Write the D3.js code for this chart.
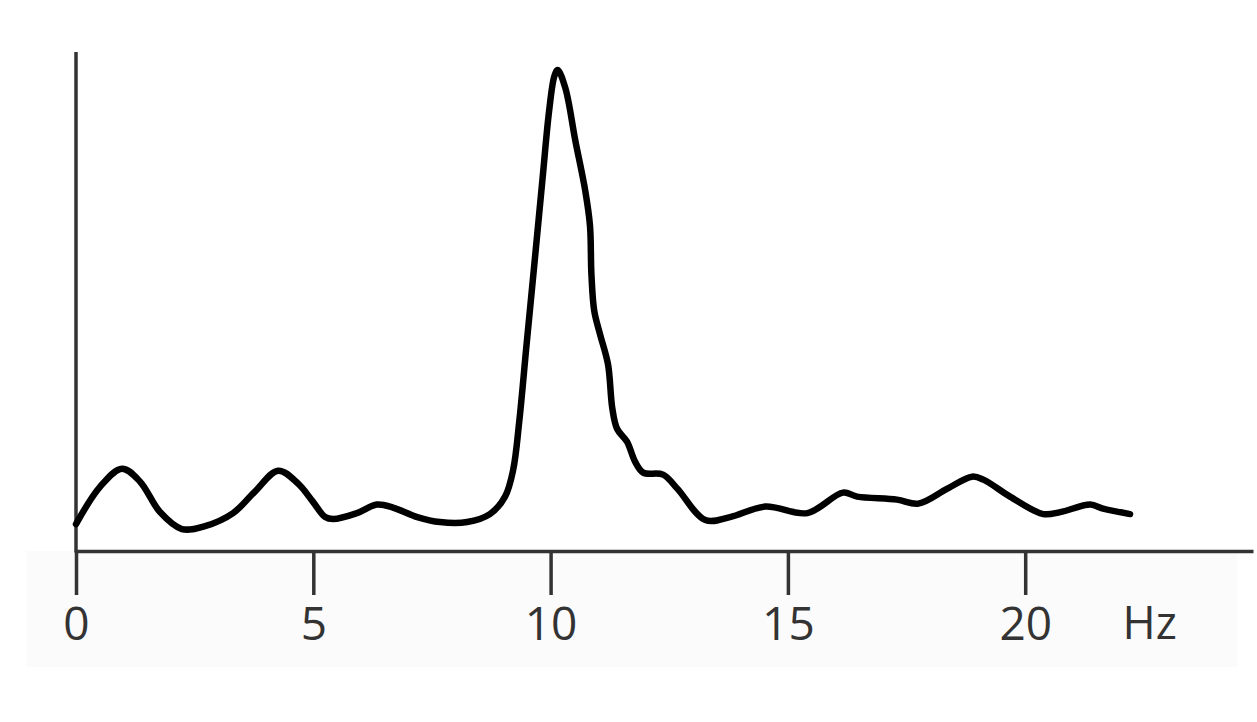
<!DOCTYPE html>
<html>
<head>
<meta charset="utf-8">
<script src="https://cdn.jsdelivr.net/npm/d3@7"></script>
<style>
	html, body { margin: 0; padding: 0; background: #fff; }
	svg { display: block; }
	.tick text { font-family: 'Open Sans', sans-serif; }
</style>
</head>
<body>
<div id="chart"></div>
<script>
	'use strict';

	// Frequency (Hz) of each traced point
	var freq = [0, 0.51, 0.97, 1.35, 1.77, 2.23, 2.72, 3.31, 3.77, 4.26, 4.68, 4.99, 5.25, 5.42,
		5.92, 6.34, 6.68, 7.19, 7.67, 8.24, 8.72, 9.04, 9.21, 9.34, 9.49, 9.66, 9.83, 9.97,
		10.08, 10.15, 10.31, 10.52, 10.73, 10.83, 10.86, 10.92, 11.04, 11.21, 11.30, 11.40, 11.61,
		11.78, 11.95, 12.37, 12.67, 13.26, 13.78, 14.52, 15.41, 16.16, 16.46, 17.30, 17.75,
		18.36, 18.88, 19.12, 19.68, 20.38, 20.74, 21.37, 21.64, 22.21];

	// Relative power (axis top = 100)
	var power = [5.4, 12.9, 16.5, 13.9, 7.8, 4.4, 5.0, 7.6, 11.9, 16.1, 13.5, 9.9, 6.8, 6.4,
		7.6, 9.3, 8.7, 6.8, 5.8, 5.8, 7.4, 10.9, 16.2, 26.0, 41.0, 57.7, 74.6, 88.3,
		95.2, 96.4, 92.8, 82.3, 72.2, 65.2, 55.5, 48.1, 43.5, 37.4, 28.6, 24.5, 21.9,
		17.9, 15.7, 15.3, 12.5, 6.2, 6.8, 8.9, 7.6, 11.7, 10.9, 10.3, 9.5,
		12.5, 14.9, 14.3, 10.9, 7.4, 7.8, 9.3, 8.5, 7.4];

	var tickValues = [0, 5, 10, 15, 20];
	var unitLabel = 'Hz';

	var width = 1257, height = 722;
	var margin = {top: 52, right: 4, bottom: 172, left: 76};

	var svg = d3.select('#chart')
		.append('svg')
		.attr('width', width)
		.attr('height', height);

	// faint grey band behind the labels
	svg.append('rect')
		.attr('x', 27)
		.attr('y', 551)
		.attr('width', 1210)
		.attr('height', 116)
		.attr('fill', '#fbfbfb');

	var x = d3.scaleLinear()
		.domain([0, 24.8])
		.range([margin.left, width - margin.right]);

	var y = d3.scaleLinear()
		.domain([0, 100])
		.range([height - margin.bottom + 1, margin.top]);

	var data = freq.map(function(f, i) { return {f: f, p: power[i]}; });

	// x axis
	var xAxis = svg.append('g')
		.attr('transform', 'translate(0,' + y(0) + ')')
		.call(d3.axisBottom(x)
			.tickValues(tickValues)
			.tickSize(44)
			.tickPadding(12)
			.tickSizeOuter(0));

	xAxis.select('.domain')
		.attr('stroke', '#333')
		.attr('stroke-width', 3.5);
	xAxis.selectAll('.tick line')
		.attr('stroke', '#333')
		.attr('stroke-width', 3.5);
	xAxis.selectAll('.tick text')
		.attr('fill', '#333')
		.attr('font-size', 46)
		.attr('dy', '0.71em');

	xAxis.append('text')
		.attr('x', x(22.05))
		.attr('y', 56)
		.attr('dy', '0.71em')
		.attr('fill', '#333')
		.attr('font-size', 45)
		.attr('font-family', 'Open Sans, sans-serif')
		.attr('text-anchor', 'start')
		.text(unitLabel);

	// y axis (line only)
	svg.append('line')
		.attr('x1', x(0)).attr('x2', x(0))
		.attr('y1', y(100)).attr('y2', y(0) + 1.5)
		.attr('stroke', '#333')
		.attr('stroke-width', 3.5);

	// spectrum
	var line = d3.line()
		.x(function(d) { return x(d.f); })
		.y(function(d) { return y(d.p); })
		.curve(d3.curveCatmullRom.alpha(0.5));

	svg.append('path')
		.datum(data)
		.attr('fill', 'none')
		.attr('stroke', '#000')
		.attr('stroke-width', 6.5)
		.attr('stroke-linejoin', 'round')
		.attr('stroke-linecap', 'round')
		.attr('d', line);
</script>
</body>
</html>
